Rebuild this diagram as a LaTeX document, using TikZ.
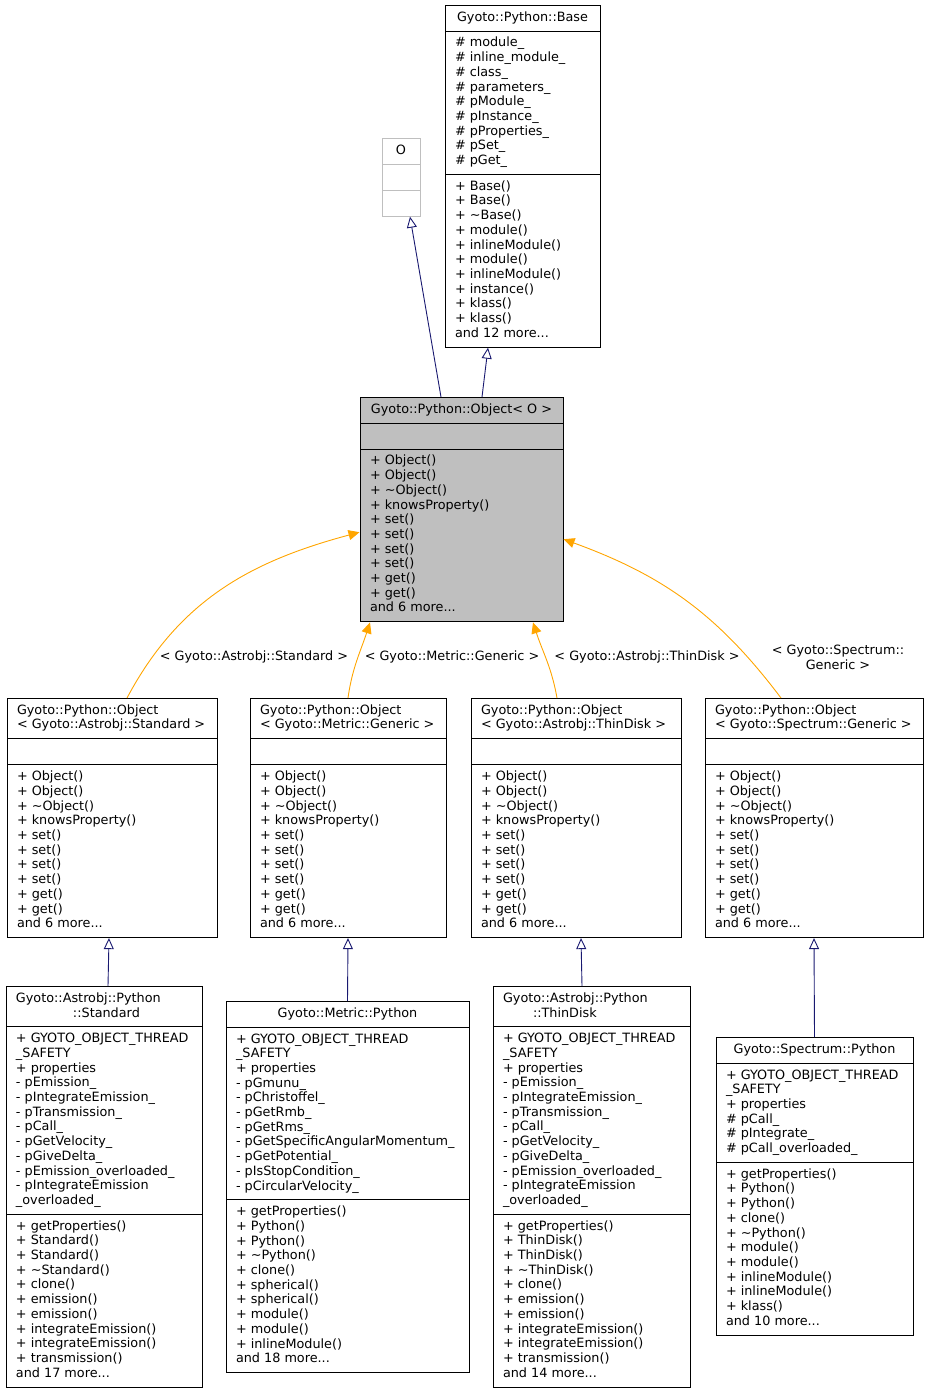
\documentclass[tikz,border=0pt]{standalone}
\usepackage{fontspec}
\setmainfont{DejaVu Sans}
\usepackage{tikz}
\usetikzlibrary{arrows.meta}
\usetikzlibrary{shapes.multipart}
\definecolor{edgenavy}{HTML}{191970}
\definecolor{edgeorange}{HTML}{FFA500}
\definecolor{nodegray}{HTML}{BFBFBF}
\newcommand{\umlfont}{\fontsize{12.8}{14.7}\selectfont}
\newcommand{\nomember}{\rule[-4.5pt]{0pt}{15pt}}
\newcommand{\objmethods}{\strut+ Object()\\+ Object()\\+ \textasciitilde Object()\\+ knowsProperty()\\+ set()\\+ set()\\+ set()\\+ set()\\+ get()\\+ get()\\and 6 more...\strut}
\newcommand{\astrobjattrs}{\strut+ GYOTO\_OBJECT\_THREAD\\\_SAFETY\\+ properties\\- pEmission\_\\- pIntegrateEmission\_\\- pTransmission\_\\- pCall\_\\- pGetVelocity\_\\- pGiveDelta\_\\- pEmission\_overloaded\_\\- pIntegrateEmission\\\_overloaded\_\strut}
\tikzset{
  umlclass/.style={draw, rectangle split, rectangle split parts=3,
    rectangle split part align={center,left,left}, font=\umlfont, align=left,
    inner xsep=10pt, inner ysep=5pt, minimum width=#1, line width=1pt, anchor=north},
  tmplclass/.style={umlclass=#1, rectangle split part align={left,left,left}},
  navyedge/.style={edgenavy, line width=0.9pt, -{Triangle[open, length=11pt, width=10pt]}},
  orangeedge/.style={edgeorange, line width=0.9pt, -{Triangle[length=11pt, width=10pt]}},
  edgelabel/.style={font=\umlfont, align=center, inner sep=0pt}
}

\begin{document}
\begin{tikzpicture}[x=1pt, y=-1pt]
            \useasboundingbox (0,0) rectangle (929,1391);
            \draw (401,138) node[umlclass=38, draw=nodegray]                 (oBox) {\strut O\nodepart{second}\nomember\nodepart{third}\nomember};
            \draw (522.5,5) node[umlclass=155]                               (base) {\strut Gyoto::Python::Base
                \nodepart{second}\strut\# module\_\\\# inline\_module\_\\\# class\_\\\# parameters\_\\\# pModule\_\\\# pInstance\_\\\# pProperties\_\\\# pSet\_\\\# pGet\_\strut
                \nodepart{third}\strut+ Base()\\+ Base()\\+ \textasciitilde Base()\\+ module()\\+ inlineModule()\\+ module()\\+ inlineModule()\\+ instance()\\+ klass()\\+ klass()\\and 12 more...\strut};
            \draw (461.5,397) node[umlclass=203, fill=nodegray]              (objO) {\strut Gyoto::Python::Object< O >\nodepart{second}\nomember\nodepart{third}\objmethods};
            \draw (112,698) node[tmplclass=210]                              (stdObj) {\strut Gyoto::Python::Object\\< Gyoto::Astrobj::Standard >\strut\nodepart{second}\nomember\nodepart{third}\objmethods};
            \draw (348,698) node[tmplclass=196]                              (metObj) {\strut Gyoto::Python::Object\\< Gyoto::Metric::Generic >\strut\nodepart{second}\nomember\nodepart{third}\objmethods};
            \draw (576,698) node[tmplclass=210]                              (tdObj) {\strut Gyoto::Python::Object\\< Gyoto::Astrobj::ThinDisk >\strut\nodepart{second}\nomember\nodepart{third}\objmethods};
            \draw (814,698) node[tmplclass=218]                              (spObj) {\strut Gyoto::Python::Object\\< Gyoto::Spectrum::Generic >\strut\nodepart{second}\nomember\nodepart{third}\objmethods};
            \draw (104,986) node[tmplclass=196]                              (stdPy) {\strut Gyoto::Astrobj::Python\\\hspace*{57pt}::Standard\strut
                \nodepart{second}\astrobjattrs
                \nodepart{third}\strut+ getProperties()\\+ Standard()\\+ Standard()\\+ \textasciitilde Standard()\\+ clone()\\+ emission()\\+ emission()\\+ integrateEmission()\\+ integrateEmission()\\+ transmission()\\and 17 more...\strut};
            \draw (347.5,1001) node[umlclass=243]                            (metPy) {\strut Gyoto::Metric::Python
                \nodepart{second}\strut+ GYOTO\_OBJECT\_THREAD\\\_SAFETY\\+ properties\\- pGmunu\_\\- pChristoffel\_\\- pGetRmb\_\\- pGetRms\_\\- pGetSpecificAngularMomentum\_\\- pGetPotential\_\\- pIsStopCondition\_\\- pCircularVelocity\_\strut
                \nodepart{third}\strut+ getProperties()\\+ Python()\\+ Python()\\+ \textasciitilde Python()\\+ clone()\\+ spherical()\\+ spherical()\\+ module()\\+ module()\\+ inlineModule()\\and 18 more...\strut};
            \draw (591.5,986) node[tmplclass=197]                            (tdPy) {\strut Gyoto::Astrobj::Python\\\hspace*{30pt}::ThinDisk\strut
                \nodepart{second}\astrobjattrs
                \nodepart{third}\strut+ getProperties()\\+ ThinDisk()\\+ ThinDisk()\\+ \textasciitilde ThinDisk()\\+ clone()\\+ emission()\\+ emission()\\+ integrateEmission()\\+ integrateEmission()\\+ transmission()\\and 14 more...\strut};
            \draw (814.5,1037) node[umlclass=197]                            (spPy) {\strut Gyoto::Spectrum::Python
                \nodepart{second}\strut+ GYOTO\_OBJECT\_THREAD\\\_SAFETY\\+ properties\\\# pCall\_\\\# pIntegrate\_\\\# pCall\_overloaded\_\strut
                \nodepart{third}\strut+ getProperties()\\+ Python()\\+ Python()\\+ clone()\\+ \textasciitilde Python()\\+ module()\\+ module()\\+ inlineModule()\\+ inlineModule()\\+ klass()\\and 10 more...\strut};
            \draw (254,657) node[edgelabel]                                  (lblStd) {< Gyoto::Astrobj::Standard >};
            \draw (452,657) node[edgelabel]                                  (lblMet) {< Gyoto::Metric::Generic >};
            \draw (647,657) node[edgelabel]                                  (lblTd) {< Gyoto::Astrobj::ThinDisk >};
            \draw (838,657) node[edgelabel]                                  (lblSp) {< Gyoto::Spectrum::\\Generic >};
            \draw[navyedge] ([xshift=-20.5pt]objO.north) -- ([xshift=9pt]oBox.south);
            \draw[navyedge] ([xshift=20.5pt]objO.north) -- ([xshift=-34.5pt]base.south);
            \draw[orangeedge] ([xshift=15pt]stdObj.north) to[out=62, in=195] ([yshift=-22.5pt]objO.west);
            \draw[orangeedge] (metObj.north) to[out=82, in=-108] ([xshift=-91.5pt]objO.south);
            \draw[orangeedge] ([xshift=-19pt]tdObj.north) to[out=100, in=-72] ([xshift=71.5pt]objO.south);
            \draw[orangeedge] ([xshift=-33pt]spObj.north) to[out=127, in=-20] ([yshift=-29.5pt]objO.east);
            \draw[navyedge] ([xshift=4pt]stdPy.north) -- ([xshift=-3pt]stdObj.south);
            \draw[navyedge] (metPy.north) -- (metObj.south);
            \draw[navyedge] ([xshift=-9.5pt]tdPy.north) -- ([xshift=5pt]tdObj.south);
            \draw[navyedge] (spPy.north) -- (spObj.south);
\end{tikzpicture}
\end{document}
